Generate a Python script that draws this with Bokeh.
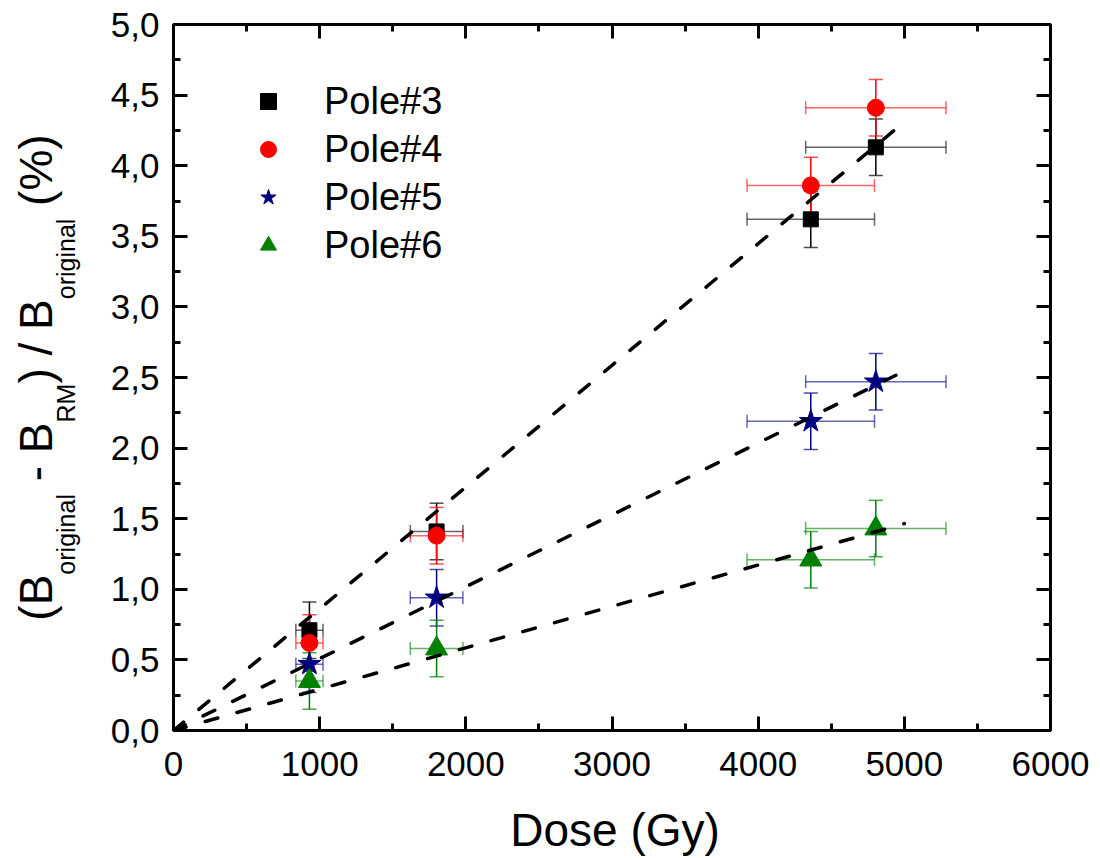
import math
from bokeh.plotting import figure
from bokeh.layouts import row, column
from bokeh.models import (Range1d, LinearAxis, FixedTicker, Whisker, TeeHead,
                          ColumnDataSource, Legend, LegendItem)
from bokeh.core.properties import value
from bokeh.embed import file_html
from bokeh.resources import INLINE

# ---------------- data ----------------
dose = [930, 1800, 4360, 4805]            # Gy
dose_err = [93, 180, 436, 480]            # Gy
pole3 = [0.71, 1.41, 3.62, 4.13]          # %
pole4 = [0.62, 1.38, 3.86, 4.41]
pole5 = [0.47, 0.94, 2.19, 2.47]
pole6 = [0.35, 0.58, 1.21, 1.43]
val_err = [0.2, 0.2, 0.2, 0.2]
series_names = ["Pole#3", "Pole#4", "Pole#5", "Pole#6"]
series_colors = ["#000000", "#FF0000", "#000080", "#008000"]
series_markers = ["square", "circle", "star", "triangle"]
fit_slopes = [0.000862, 0.000509, 0.000293]   # % per Gy, fits through origin
fit_dose = [0, 5000]
x_ticks = [0, 1000, 2000, 3000, 4000, 5000, 6000]
x_tick_labels = ["0", "1000", "2000", "3000", "4000", "5000", "6000"]
y_ticks = [0.0, 0.5, 1.0, 1.5, 2.0, 2.5, 3.0, 3.5, 4.0, 4.5, 5.0]
y_tick_labels = ["0,0", "0,5", "1,0", "1,5", "2,0", "2,5", "3,0", "3,5", "4,0", "4,5", "5,0"]
x_label = "Dose (Gy)"
y_label_pieces = [("(B", False), ("original", True), (" - B", False), ("RM", True),
                  (") / B", False), ("original", True), (" (%)", False)]   # (text, is_subscript)

FONT = "Liberation Sans"
H = 856
LABEL_W = 90
MAIN_W = 1096 - LABEL_W
MAIN_H = 790
XL_H = H - MAIN_H

p = figure(width=MAIN_W, height=MAIN_H, x_range=Range1d(0, 6000), y_range=Range1d(0, 5),
           x_axis_type=None, y_axis_type=None, output_backend="svg",
           toolbar_location=None, min_border_left=173 - LABEL_W, min_border_right=46,
           min_border_top=24, min_border_bottom=MAIN_H - 730)
p.grid.visible = False
p.outline_line_color = "black"
p.outline_line_width = 3
p.background_fill_color = "white"
p.border_fill_color = "white"

x_minor = [(a + b) / 2 for a, b in zip(x_ticks[:-1], x_ticks[1:])]
y_minor = [(a + b) / 2 for a, b in zip(y_ticks[:-1], y_ticks[1:])]


def make_axis(ticks, minor, labels, standoff=14):
    ax = LinearAxis(ticker=FixedTicker(ticks=ticks, minor_ticks=minor))
    ax.axis_line_width = 3
    ax.axis_line_color = "black"
    ax.major_tick_in = 14
    ax.major_tick_out = 0
    ax.minor_tick_in = 7
    ax.minor_tick_out = 0
    ax.major_tick_line_width = 3
    ax.minor_tick_line_width = 3
    if labels is not None:
        ax.major_label_overrides = dict(zip(ticks, labels))
        ax.major_label_text_font = FONT
        ax.major_label_text_font_size = "35px"
        ax.major_label_text_color = "black"
        ax.major_label_standoff = standoff
    else:
        ax.major_label_text_font_size = "0px"
        ax.major_label_text_color = None
        ax.major_label_standoff = 0
    return ax


p.add_layout(make_axis(x_ticks, x_minor, x_tick_labels, standoff=21), "below")
p.add_layout(make_axis(y_ticks, y_minor, y_tick_labels, standoff=14), "left")
p.add_layout(make_axis(x_ticks, x_minor, None), "above")
p.add_layout(make_axis(y_ticks, y_minor, None), "right")

series_vals = [pole3, pole4, pole5, pole6]
series_sizes = [15, 17, 24, 22]
renderers = []
for vals, color, marker, size in zip(series_vals, series_colors, series_markers, series_sizes):
    src = ColumnDataSource(dict(
        x=dose, y=vals,
        xl=[d - e for d, e in zip(dose, dose_err)], xu=[d + e for d, e in zip(dose, dose_err)],
        yl=[v - e for v, e in zip(vals, val_err)], yu=[v + e for v, e in zip(vals, val_err)],
    ))
    wx = Whisker(source=src, base="y", lower="xl", upper="xu", dimension="width",
                 line_color=color, line_alpha=0.6, line_width=1.5,
                 upper_head=TeeHead(size=13, line_color=color, line_alpha=0.6, line_width=1.5),
                 lower_head=TeeHead(size=13, line_color=color, line_alpha=0.6, line_width=1.5))
    wy = Whisker(source=src, base="x", lower="yl", upper="yu", dimension="height",
                 line_color=color, line_width=1.5,
                 upper_head=TeeHead(size=14, line_color=color, line_alpha=0.7, line_width=1.5),
                 lower_head=TeeHead(size=14, line_color=color, line_alpha=0.7, line_width=1.5))
    p.add_layout(wx)
    p.add_layout(wy)
    r = p.scatter("x", "y", source=src, marker=marker, size=size,
                  fill_color=color, line_color=color)
    renderers.append(r)

for s in fit_slopes:
    p.line(fit_dose, [s * d for d in fit_dose], line_color="black", line_width=3.5,
           line_dash="13 20", line_cap="round")

legend = Legend(items=[LegendItem(label=n, renderers=[r]) for n, r in zip(series_names, renderers)],
                location=(75, 463), glyph_width=40, glyph_height=44, label_height=44,
                spacing=4, padding=0, margin=0, label_standoff=36,
                label_text_font=FONT, label_text_font_size="38px", label_text_color="black",
                border_line_color=None, background_fill_alpha=0)
p.add_layout(legend)


def blank_fig(w, h):
    f = figure(width=w, height=h, x_range=Range1d(0, w), y_range=Range1d(0, h),
               x_axis_type=None, y_axis_type=None, output_backend="svg",
               toolbar_location=None, min_border_left=0, min_border_right=0,
               min_border_top=0, min_border_bottom=0)
    f.grid.visible = False
    f.outline_line_color = None
    f.background_fill_color = "white"
    f.border_fill_color = "white"
    return f


# ---------- x axis title panel (below the plot) ----------
px = blank_fig(MAIN_W, XL_H)
frame_cx = (173 - LABEL_W + (1050 - LABEL_W)) / 2 - 15   # measured correction for panel placement
XL_BASELINE_FROM_TOP = 847 - 18 - MAIN_H                  # measured correction for panel placement
px.text(x=[frame_cx], y=[XL_H - XL_BASELINE_FROM_TOP], text=[x_label], text_align="center",
        text_baseline="alphabetic", text_font=value(FONT), text_font_size="46px",
        text_color="black")

# ---------- y axis title (with subscripts) in a narrow side panel ----------
pl = blank_fig(LABEL_W, H)
ADV = {' ': 278, '(': 333, ')': 333, '-': 333, '/': 278, '%': 889, 'B': 667, 'R': 722,
       'M': 833, 'o': 556, 'r': 333, 'i': 222, 'g': 556, 'n': 556, 'a': 556, 'l': 222}
MAIN_FS, SUB_FS = 46, 25
MAIN_BASE_X, SUB_BASE_X = 35, 65          # measured correction applied
CENTER_Y = H - 377


def adv(t, fs):
    return sum(ADV[c] for c in t) * fs / 1000.0


total = sum(adv(t, SUB_FS if s else MAIN_FS) for t, s in y_label_pieces)
pos = CENTER_Y - total / 2
groups = {False: dict(x=[], y=[], text=[]), True: dict(x=[], y=[], text=[])}
for t, s in y_label_pieces:
    fs = SUB_FS if s else MAIN_FS
    lead = len(t) - len(t.lstrip())
    groups[s]["x"].append(SUB_BASE_X if s else MAIN_BASE_X)
    groups[s]["y"].append(pos + adv(" " * lead, fs))
    groups[s]["text"].append(t.strip())
    pos += adv(t, fs)
for s, g in groups.items():
    pl.text(x="x", y="y", text="text", source=ColumnDataSource(g), angle=math.pi / 2,
            text_align="left", text_baseline="alphabetic", text_font=value(FONT),
            text_font_size=f"{SUB_FS if s else MAIN_FS}px", text_color="black")

open("out.html", "w").write(file_html(row(pl, column(p, px)), INLINE))
